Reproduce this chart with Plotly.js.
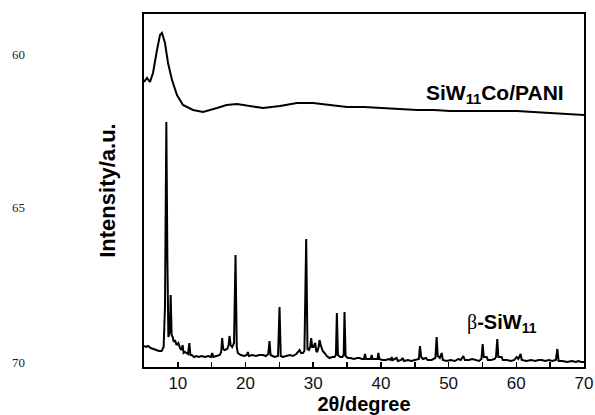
<!DOCTYPE html>
<html>
<head>
<meta charset="utf-8">
<script src="https://cdn.plot.ly/plotly-3.0.1.min.js"></script>
<style>html,body{margin:0;padding:0;background:#fff;}#chart{width:595px;height:415px;}</style>
</head>
<body>
<div id="chart"></div>
<script>
// 2θ (degree) and intensity (a.u.)
const paniTheta = [5.0,5.44,5.89,6.33,6.92,7.36,7.66,8.10,8.55,9.14,9.87,10.76,12.24,13.72,15.78,17.2,18.74,20.66,22.58,25.09,27.60,29.97,32.48,34.99,37.5,40.31,42.8,45.33,47.8,50.21,52.6,55.08,57.6,60.10,62.5,64.98,67.3,69.70,70.0];
const paniInt   = [285,289,285,294,317,332,334,324,304,287,272,262,257,255,259,262,263,261,259,261,264,264,262,260,260,259,258,257,257,256,256,256,256,256,255,254,253,252,252];

const siwTheta = [5.0,5.3,5.6,6.0,6.4,6.8,7.2,7.6,7.9,8.1,8.3,8.45,8.6,8.8,8.94,9.08,9.24,9.4,9.58,9.8,10.07,10.32,10.5,10.71,10.85,11.06,11.5,11.7,11.85,12.04,12.4,12.71,13.1,13.5,14.0,14.5,14.9,15.07,15.25,15.7,16.2,16.4,16.55,16.7,16.9,17.3,17.5,17.63,17.8,18.03,18.3,18.52,18.7,18.86,19.3,19.8,20.2,20.34,20.5,21.0,21.57,22.0,22.56,23.0,23.35,23.54,23.7,24.28,24.8,25.02,25.2,25.52,26.0,26.5,27.0,27.5,27.98,28.2,28.47,28.7,28.96,29.15,29.36,29.55,29.7,29.85,30.04,30.29,30.45,30.58,30.8,30.93,31.1,31.4,31.67,32.0,32.4,32.8,33.14,33.35,33.49,33.65,33.98,34.3,34.5,34.62,34.78,35.11,35.5,36.0,36.5,36.84,37.2,37.5,37.65,37.8,38.2,38.5,38.63,38.78,39.2,39.5,39.62,39.76,40.2,40.7,41.2,41.45,41.59,41.75,42.32,42.5,43.0,43.21,43.4,44.0,44.5,45.0,45.6,45.77,45.95,46.2,46.66,46.9,47.5,48.05,48.23,48.4,48.7,48.97,49.15,49.7,50.3,50.9,51.43,51.8,52.17,52.4,53.0,53.5,54.0,54.5,54.85,55.03,55.2,55.62,55.8,56.3,56.8,57.0,57.19,57.35,57.84,58.0,58.6,59.2,59.7,60.05,60.3,60.64,60.8,61.5,62.2,62.8,63.3,63.75,64.3,64.8,65.3,65.85,66.06,66.25,66.8,67.5,68.2,68.8,69.16,69.6,70.0];
const siwInt   = [21,20,21,19,18,17,16,16,20,60,245,110,30,35,72,32,30,25,27,22,24,19,17,22,14,15,13,24,12,12,10,11,10,11,10,11,10,14,10,11,12,15,29,18,17,18,22,31,22,20,24,112,20,14,12,11,12,15,11,12,11,12,12,11,13,26,12,10,11,60,11,10,11,12,11,13,17,14,14,16,128,18,17,20,29,20,20,24,16,15,20,27,22,16,14,11,9,10,10,12,54,12,10,10,12,55,11,9,9,8,9,9,8,8,13,8,8,8,12,8,8,8,14,8,7,7,8,7,10,7,9,6,7,9,6,7,6,7,8,21,10,8,9,7,7,9,30,11,9,14,7,6,7,6,8,7,11,7,7,8,7,6,8,23,10,10,7,7,8,10,28,10,10,7,7,6,7,10,8,13,7,6,7,6,7,7,6,7,6,7,18,6,6,5,6,5,6,5,5];

const xTicks = [10,20,30,40,50,60,70];
const labelPani = "<b>SiW<sub>11</sub>Co/PANI</b>";
const labelSiw = "<span style='font-family:Liberation Serif;font-weight:normal'>β</span><b>-SiW<sub>11</sub></b>";
const lineNumbers = ["60","65","70"];

const traces = [
  {x: paniTheta, y: paniInt, type:'scatter', mode:'lines', line:{color:'#000', width:2}, hoverinfo:'skip'},
  {x: siwTheta, y: siwInt, type:'scatter', mode:'lines', line:{color:'#000', width:2}, hoverinfo:'skip'}
];

const annotations = [
  {x:56.9, y:273, xref:'x', yref:'y', text:labelPani, showarrow:false, font:{family:'Liberation Sans, Arial', size:21, color:'#000'}},
  {x:57.9, y:44, xref:'x', yref:'y', text:labelSiw, showarrow:false, font:{family:'Liberation Sans, Arial', size:20, color:'#000'}}
];
const lnPx = [[19,54],[19,208],[19,362]];
lineNumbers.forEach((t,i)=>annotations.push({
  x:(lnPx[i][0]-144)/440, y:(367-lnPx[i][1])/353, xref:'paper', yref:'paper',
  xanchor:'center', yanchor:'middle', text:t, showarrow:false,
  font:{family:'Liberation Serif, Times New Roman', size:13, color:'#222'}}));

const layout = {
  width:595, height:415,
  margin:{l:144, r:11, t:14, b:48},
  paper_bgcolor:'#fff', plot_bgcolor:'#fff',
  showlegend:false,
  font:{family:'Liberation Sans, Arial', color:'#000'},
  xaxis:{range:[5,70], tickvals:xTicks, ticks:'inside', ticklen:5, tickwidth:1.5, tickcolor:'#000',
    minor:{dtick:5, tick0:0, ticks:'inside', ticklen:5, tickwidth:1.5, tickcolor:'#000'},
    showline:true, linewidth:2, linecolor:'#000', mirror:true, showgrid:false, zeroline:false,
    tickfont:{size:17, color:'#111'},
    title:{text:'<b>2θ/degree</b>', font:{size:20, color:'#000'}, standoff:3}},
  yaxis:{range:[0,353], showticklabels:false, ticks:'', showline:true, linewidth:2, linecolor:'#000', mirror:true,
    showgrid:false, zeroline:false,
    title:{text:'<b>Intensity/a.u.</b>', font:{size:22, color:'#000'}, standoff:20}},
  annotations: annotations
};

Plotly.newPlot('chart', traces, layout, {staticPlot:true, displayModeBar:false});
</script>
</body>
</html>
